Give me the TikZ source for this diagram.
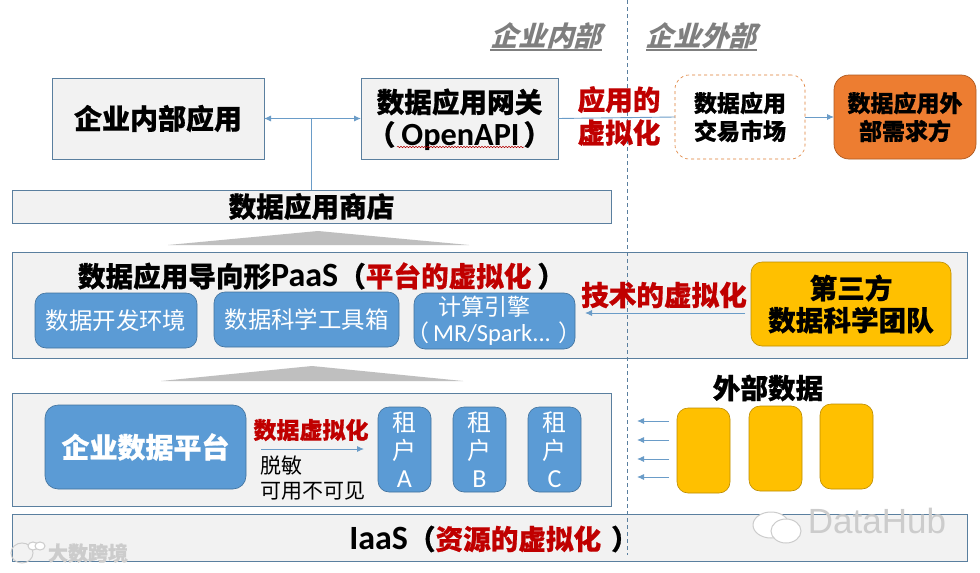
\documentclass[tikz,border=0pt]{standalone}
\usepackage{fontspec}
\setmainfont{Noto Sans CJK SC}[BoldFeatures={FakeBold=0.7}]
\newfontfamily\lat{Carlito}
\newfontfamily\slantcjk[BoldFeatures={FakeSlant=0.28}]{Noto Sans CJK SC}
\newfontfamily\wm{Liberation Sans}
\usetikzlibrary{arrows.meta,decorations.pathmorphing}
\definecolor{edgeblue}{HTML}{5A7F9F}
\definecolor{paneg}{HTML}{F2F2F2}
\definecolor{blueb}{HTML}{5B9BD5}
\definecolor{bluee}{HTML}{41719C}
\definecolor{arrowb}{HTML}{6A9CC8}
\definecolor{gold}{HTML}{FFC000}
\definecolor{golde}{HTML}{BC8C00}
\definecolor{orangeb}{HTML}{ED7D31}
\definecolor{orangee}{HTML}{AE5A21}
\definecolor{redt}{HTML}{C00000}
\definecolor{headg}{HTML}{7F7F7F}
\definecolor{triang}{HTML}{BFBFBF}
\definecolor{wmark}{HTML}{CCCCCC}
\newcommand{\fs}[2]{\fontsize{#1}{#2}\selectfont}
% \bx[style]{name}{x1}{y1}{x2}{y2}{text}
\newcommand{\bx}[7][]{\node[#1,minimum width={(#5-#3)*1pt},minimum height={(#6-#4)*1pt}] (#2) at ({(#3+#5)/2},{(#4+#6)/2}) {#7};}
\tikzset{
  x=1pt,y=-1pt,
  base/.style={inner sep=0pt,outer sep=0pt,align=center,text=black},
  pane/.style={base,draw=edgeblue,fill=paneg,line width=0.9pt},
  bluebox/.style={base,draw=bluee,fill=blueb,line width=0.6pt,rounded corners=11pt,text=white},
  goldbox/.style={base,draw=golde,fill=gold,line width=0.6pt,rounded corners=11pt},
  flow/.style={draw=arrowb,line width=0.9pt},
  flowtip/.style={flow,-{Latex[length=7pt,width=6pt]}},
  flowboth/.style={flow,{Latex[length=7pt,width=6pt]}-{Latex[length=7pt,width=6pt]}},
  lab/.style={inner sep=0pt,outer sep=0pt,align=center,text=black},
  redlab/.style={lab,text=redt,font=\fs{27.6}{33}\bfseries},
  head/.style={lab,text=headg,font=\fs{27.6}{30}\slantcjk\bfseries},
  tenant/.style={bluebox,font=\fs{24}{28}},
}
\begin{document}
\begin{tikzpicture}
\useasboundingbox (0,0) rectangle (980,573);
\fill[white] (0,0) rectangle (980,573);
% top row
\bx[pane,font=\fs{28}{34}\bfseries]{app}{52}{78}{264}{159}{企业内部应用}
\bx[pane]{gw}{361}{78}{558}{159}{}
\node[lab,anchor=base,font=\fs{27.6}{32}\bfseries] (gwa) at (459.5,112.5) {数据应用网关};
\node[lab,anchor=base,font=\fs{27.6}{32}\bfseries] (gwb) at (459.5,145) {（\kern6pt{\lat\fs{32.3}{32}\bfseries OpenAPI}\kern4pt）};
\bx[base,draw=orangeb!70!brown,dashed,fill=white,line width=0.6pt,rounded corners=14pt,font=\fs{23}{28}\bfseries]{mkt}{675}{75}{805}{159}{数据应用\\交易市场}
\bx[base,draw=orangee,fill=orangeb,line width=0.7pt,rounded corners=15pt,font=\fs{23}{28}\bfseries]{ext}{834}{75}{976}{159}{数据应用外\\部需求方}
\bx[pane,font=\fs{27.6}{30}\bfseries]{store}{12}{190}{611}{223}{数据应用商店}
% connectors top
\coordinate (junc) at (311,118);
\draw[flowboth] (app.east) -- (gw.west);
\draw[flow] (junc) -- (junc |- store.north);
\draw[flow] (gw.east) -- (mkt.west);
\draw[flowtip] (mkt.east) -- (ext.west);
% divider
\coordinate (divtop) at (627,0);
\coordinate (divbot) at (627,555);
% layers
\fill[triang] (168,245) -- (318,231) -- (469,245) -- cycle;
\bx[pane]{paas}{12}{252}{967}{358}{}
\fill[triang] (161,381) -- (312,366) -- (463,381) -- cycle;
\bx[pane]{data}{12}{393}{611}{506}{}
\bx[pane]{iaas}{12}{514}{967}{561}{}
\draw[draw=edgeblue,line width=0.6pt,dash pattern=on 4pt off 3pt] (divtop) -- (divbot);
% headers
\node[head] (hin) at (546,36) {企业内部};
\node[head] (hout) at (701,36) {企业外部};
\coordinate (ua) at (490,50); \coordinate (ub) at (602,50);
\coordinate (uc) at (646,50); \coordinate (ud) at (757,50);
\draw[headg,line width=2.4pt] (ua) -- (ub);
\draw[headg,line width=2.4pt] (uc) -- (ud);
% red top label
\node[redlab] (appv) at (619,116) {应用的\\虚拟化};
\draw[red!70!black,line width=0.5pt,decorate,decoration={snake,amplitude=0.7pt,segment length=3pt}] (397,147) -- (524,147);
% PaaS
\node[lab,font=\fs{27.6}{30}\bfseries] (ptitle) at (321.5,276) {数据应用导向形{\lat\fs{34}{30}\bfseries PaaS}（\textcolor{redt}{平台的虚拟化}\kern6pt）};
\bx[bluebox,font=\fs{23.4}{30}]{dev}{35}{293}{197}{348}{数据开发环境}
\bx[bluebox,font=\fs{23.4}{30}]{sci}{214}{292}{399}{347}{数据科学工具箱}
\bx[bluebox]{eng}{414}{293}{575}{349}{}
\node[lab,text=white,font=\fs{23}{27}] (enga) at (484.5,307) {计算引擎};
\node[lab,text=white,font=\fs{23}{27}] (engb) at (494,334) {（\kern4pt{\lat\fs{24.5}{27}MR/Spark...}\kern8pt）};
\bx[goldbox,font=\fs{27.6}{32}\bfseries]{third}{751}{262}{951}{346}{第三方\\数据科学团队}
\coordinate (tp) at (745,313);
\coordinate (te) at (585,313);
\draw[flowtip] (tp) -- (te);
\node[redlab] (techv) at (664,295) {技术的虚拟化};
% data layer
\bx[bluebox,rounded corners=13pt,font=\fs{28}{30}\bfseries]{plat}{45}{405}{246}{489}{企业数据平台}
\bx[tenant]{ta}{378}{407}{431}{492}{租\\户\\{\lat\fs{26}{28}A}}
\bx[tenant]{tb}{453}{407}{506}{492}{租\\户\\{\lat\fs{26}{28}B}}
\bx[tenant]{tc}{528}{407}{581}{492}{租\\户\\{\lat\fs{26}{28}C}}
\node[lab,text=redt,font=\fs{23}{28}\bfseries] (dv) at (311,430) {数据虚拟化};
\coordinate (da) at (261,449);
\coordinate (db) at (364,449);
\draw[flowtip] (da) -- (db);
\node[lab,anchor=west,font=\fs{21}{25}] (t1) at (260,466) {脱敏};
\node[lab,anchor=west,font=\fs{21}{25}] (t2) at (260,491) {可用不可见};
% external
\node[lab,font=\fs{27.6}{30}\bfseries] (extd) at (768,388) {外部数据};
\bx[goldbox]{e1}{677}{408}{730}{493}{}
\bx[goldbox]{e2}{749}{406}{802}{491}{}
\bx[goldbox]{e3}{820}{404}{873}{489}{}
\foreach \yy/\nn in {421/a,440/b,459/c,477/d}{
  \coordinate (s\nn) at (669,\yy);
  \coordinate (t\nn) at (637,\yy);
  \draw[flowtip] (s\nn) -- (t\nn);
}
% IaaS
\node[lab,font=\fs{27.6}{30}\bfseries] (ititle) at (494,539) {{\lat\fs{34}{30}\bfseries IaaS}（\textcolor{redt}{资源的虚拟化}\kern10pt）};
% watermarks
\node[lab,text=wmark,font=\fs{20}{24}\bfseries] (wm1) at (88,553) {大数跨境};
\draw[wmark,line width=1pt] (22,553) ellipse (11 and 10);
\draw[wmark,line width=1pt,fill=white] (33,546) ellipse (5 and 4);
\draw[wmark,line width=1pt,fill=white] (40,546) ellipse (5 and 4);
\draw[wmark,line width=1pt,fill=white] (771,525) ellipse (18 and 13);
\draw[wmark,line width=1pt,fill=white] (786,531) ellipse (15 and 12);
\node[lab,text=wmark,font=\fs{35}{36}\wm] (wm2) at (877,521) {DataHub};
\end{tikzpicture}
\end{document}
